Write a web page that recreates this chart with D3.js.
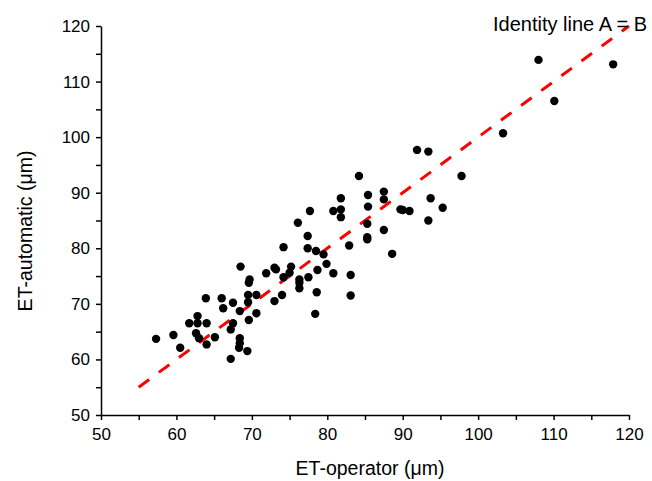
<!DOCTYPE html>
<html>
<head>
<meta charset="utf-8">
<script src="https://cdn.jsdelivr.net/npm/d3@7"></script>
<style>
  body { margin: 0; background: white; }
  text { font-family: "Liberation Sans", Arial, sans-serif; }
</style>
</head>
<body>
<div id="Canvas"></div>
<script>
// ET-operator 對 ET-automatic 的散佈圖 (讀圖估計值)
const ET_operator = [
  57.3, 59.6, 60.5, 61.7, 62.8, 64.0, 62.8, 63.9, 66.0, 62.6,
  63.0, 65.1, 64.0, 66.2, 67.5, 67.5, 67.2, 67.2, 68.4, 68.4,
  68.4, 68.3, 69.4, 68.5, 69.7, 69.6, 69.5, 70.6, 69.5, 70.6,
  69.6, 71.9, 73.0, 73.2, 75.2, 75.0, 74.2, 76.3, 76.3, 76.3,
  74.0, 73.0, 76.1, 74.2, 77.4, 77.4, 78.5, 79.5, 77.5, 78.7,
  79.9, 80.8, 83.1, 78.6, 83.1, 78.4, 77.7, 80.8, 81.8, 81.8,
  81.8, 82.9, 84.2, 85.4, 85.4, 85.3, 85.3, 85.3, 87.5, 87.5,
  87.5, 88.6, 89.7, 90.0, 90.9, 91.9, 93.4, 93.7, 93.4, 95.3,
  97.8, 103.3, 108.0, 110.1, 117.9
]
const ET_automatic = [
  63.7, 64.4, 62.1, 66.5, 66.5, 66.5, 67.8, 71.0, 71.0, 64.7,
  63.8, 64.0, 62.7, 69.2, 70.2, 66.5, 65.4, 60.1, 68.7, 63.8,
  62.9, 62.1, 61.5, 76.7, 74.4, 73.8, 71.6, 71.6, 70.3, 68.3,
  67.1, 75.5, 76.5, 76.2, 76.7, 75.6, 74.8, 74.4, 73.8, 72.8,
  71.6, 70.5, 84.6, 80.2, 82.2, 80.0, 79.5, 78.9, 74.8, 76.1,
  77.2, 75.5, 75.2, 72.1, 71.5, 68.2, 86.7, 86.7, 87.0, 89.0,
  85.6, 80.5, 93.0, 89.6, 87.5, 84.4, 82.0, 81.6, 90.2, 88.8,
  83.3, 79.0, 87.0, 86.9, 86.7, 97.7, 97.4, 89.0, 85.0, 87.3,
  93.0, 100.7, 113.9, 106.5, 113.1
]
const Identity_line = [55, 120]
const X_ticks = [50, 60, 70, 80, 90, 100, 110, 120]
const Y_ticks = [50, 60, 70, 80, 90, 100, 110, 120]
const Minor_ticks = [55, 65, 75, 85, 95, 105, 115]

let svg = d3.select("#Canvas")
    .append("svg")
    .attr("width", 652)
    .attr("height", 481)
    .style("background", "white")

let X_Scale = d3.scaleLinear()
    .domain([50, 120])
    .range([101, 629])
let Y_Scale = d3.scaleLinear()
    .domain([50, 120])
    .range([415, 26])

// 小刻度
svg.append("g")
    .attr("transform", "translate(0,415)")
    .call(d3.axisBottom(X_Scale).tickValues(Minor_ticks).tickSize(5).tickFormat(""))
    .call(g => g.select(".domain").remove())
svg.append("g")
    .attr("transform", "translate(101,0)")
    .call(d3.axisLeft(Y_Scale).tickValues(Minor_ticks).tickSize(5).tickFormat(""))
    .call(g => g.select(".domain").remove())

let X_axis = d3.axisBottom(X_Scale)
    .tickValues(X_ticks)
    .tickSize(5).tickSizeOuter(0).tickPadding(8)
svg.append("g")
    .attr("class", "X_axis")
    .attr("transform", "translate(0,415)")
    .call(X_axis)
let Y_axis = d3.axisLeft(Y_Scale)
    .tickValues(Y_ticks)
    .tickSize(5).tickSizeOuter(0).tickPadding(6)
svg.append("g")
    .attr("class", "Y_axis")
    .attr("transform", "translate(101,0)")
    .call(Y_axis)

svg.selectAll(".X_axis text, .Y_axis text")
    .style("font-size", "17px")
    .style("font-family", "Liberation Sans, Arial, sans-serif")
    .attr("fill", "#000")
svg.selectAll(".domain, .tick line")
    .attr("stroke", "#000")
    .attr("stroke-width", 1.5)

// 對角線 A = B
let l = d3.line().x(d => X_Scale(d)).y(d => Y_Scale(d))
svg.append("path")
    .attr("d", l(Identity_line))
    .attr("stroke", "#ff0000")
    .attr("stroke-width", 3)
    .attr("stroke-dasharray", "13,12")
    .attr("fill", "none")

svg.append("g")
    .selectAll("circle")
    .data(ET_operator).enter()
    .append("circle")
    .attr("cx", d => X_Scale(d))
    .attr("cy", (d, i) => Y_Scale(ET_automatic[i]))
    .attr("r", 4.2)
    .attr("fill", "#000")

svg.append("text")
    .attr("x", 647).attr("y", 31)
    .attr("text-anchor", "end")
    .style("font-size", "20px")
    .text("Identity line A = B")

svg.append("text")
    .attr("x", 370).attr("y", 475)
    .attr("text-anchor", "middle")
    .style("font-size", "19.5px")
    .text("ET-operator (μm)")

svg.append("text")
    .attr("transform", "translate(32,231) rotate(-90)")
    .attr("text-anchor", "middle")
    .style("font-size", "19.5px")
    .text("ET-automatic (μm)")
</script>
</body>
</html>
